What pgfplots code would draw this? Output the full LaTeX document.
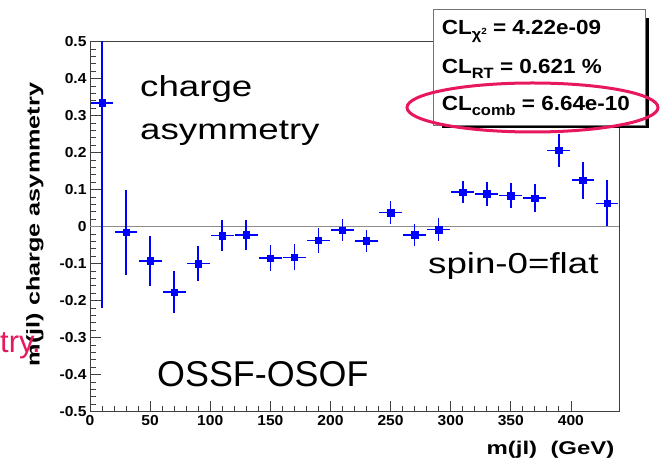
\documentclass[border=0pt]{standalone}
\usepackage{fontspec}
\setmainfont{Liberation Sans}
\usepackage{graphicx}
\usepackage{pgfplots}
\pgfplotsset{compat=1.18}
\usepackage{pgfplotstable}

\definecolor{rootblue}{RGB}{0,0,255}
\definecolor{slidepink}{RGB}{232,24,96}
\newcommand{\sx}[2]{\scalebox{#1}[1]{#2}}
\newcommand{\low}[1]{\raisebox{-4.5bp}{\fontsize{15}{15}\selectfont #1}}

% bin centre, asymmetry, error
\pgfplotstableread{
x    y       ey
10   0.335   0.555
30   -0.015  0.115
50   -0.092  0.068
70   -0.177  0.057
90   -0.100  0.048
110  -0.024  0.041
130  -0.022  0.040
150  -0.085  0.036
170  -0.083  0.035
190  -0.037  0.033
210  -0.009  0.030
230  -0.038  0.030
250  0.038   0.031
270  -0.022  0.030
290  -0.008  0.032
310  0.093   0.030
330  0.089   0.033
350  0.084   0.034
370  0.077   0.038
390  0.206   0.045
410  0.126   0.050
430  0.063   0.062
}\asym

\begin{document}
\begin{tikzpicture}
\useasboundingbox (0,0) rectangle (664bp,458bp);
\begin{axis}[
    at={(90bp,46.3bp)}, anchor=south west,
    scale only axis, width=529bp, height=370bp,
    xmin=0, xmax=440, ymin=-0.5, ymax=0.5,
    xtick={0,50,...,400},
    ytick={-0.5,-0.4,-0.3,-0.2,-0.1,0,0.1,0.2,0.3,0.4,0.5},
    minor x tick num=4, minor y tick num=4,
    tick align=inside, xtick pos=left, ytick pos=left,
    major tick length=11bp, minor tick length=6bp,
    axis line style={black!75, line width=0.9bp},
    every tick/.style={black!75, line width=0.8bp},
    ticklabel style={font=\bfseries\fontsize{14.5}{14.5}\selectfont},
    xticklabel={\sx{1.08}{\pgfmathprintnumber[assume math mode=true]{\tick}}},
    yticklabel={\sx{1.08}{\pgfmathprintnumber[fixed,precision=1,assume math mode=true]{\tick}}},
    label style={font=\bfseries\fontsize{18.5}{18.5}\selectfont},
    xlabel={\sx{1.3}{m(jl)\ \ (GeV)}},
    ylabel={\sx{1.37}{m(jl) charge asymmetry}},
    xlabel style={at={(axis description cs:0.998,-0.102)}, anchor=east},
    ylabel style={at={(axis description cs:-0.104,0.506)}, anchor=center},
]
\draw[black!45, line width=1.4bp] (axis cs:0,0) -- (axis cs:440,0);
\addplot[only marks, mark=square*, mark size=3.2bp, color=rootblue,
    mark options={line width=0.5bp},
    error bars/.cd, x dir=both, x fixed=9.5, y dir=both, y explicit,
    error mark=none, error bar style={line width=1.6bp, rootblue}]
    table[x=x, y=y, y error=ey] {\asym};
\end{axis}

% statistics box
\fill[black] (442bp,330bp) rectangle (649bp,440bp);
\filldraw[fill=white, draw=black!55, line width=0.8bp] (433bp,333bp) rectangle (645bp,448.7bp);
\begin{scope}[every node/.style={anchor=base west, inner sep=0pt, font=\bfseries\fontsize{20.5}{20.5}\selectfont}]
\node at (441.7bp,423bp) {\sx{1.1}{CL\low{χ\raisebox{5bp}{\fontsize{9}{9}\selectfont 2}} = 4.22e-09}};
\node at (441.7bp,384bp) {\sx{1.1}{CL\low{RT} = 0.621 \%}};
\node at (441.7bp,347.3bp) {\sx{1.1}{CL\low{comb} = 6.64e-10}};
\end{scope}
\draw[slidepink, line width=3bp] (532.5bp,350.5bp) ellipse [x radius=125.5bp, y radius=24.5bp];

% annotations
\begin{scope}[every node/.style={anchor=base west, inner sep=0pt}]
\node[font=\fontsize{29}{29}\selectfont] at (140bp,361.3bp) {\sx{1.27}{charge}};
\node[font=\fontsize{29}{29}\selectfont] at (140bp,318bp) {\sx{1.27}{asymmetry}};
\node[font=\fontsize{29}{29}\selectfont] at (428bp,184.7bp) {\sx{1.27}{spin-0=flat}};
\node[font=\fontsize{36}{36}\selectfont] at (157bp,71.3bp) {OSSF-OSOF};
\node[font=\fontsize{31}{31}\selectfont, text=slidepink] at (0bp,105.5bp) {try.};
\end{scope}
\end{tikzpicture}
\end{document}
